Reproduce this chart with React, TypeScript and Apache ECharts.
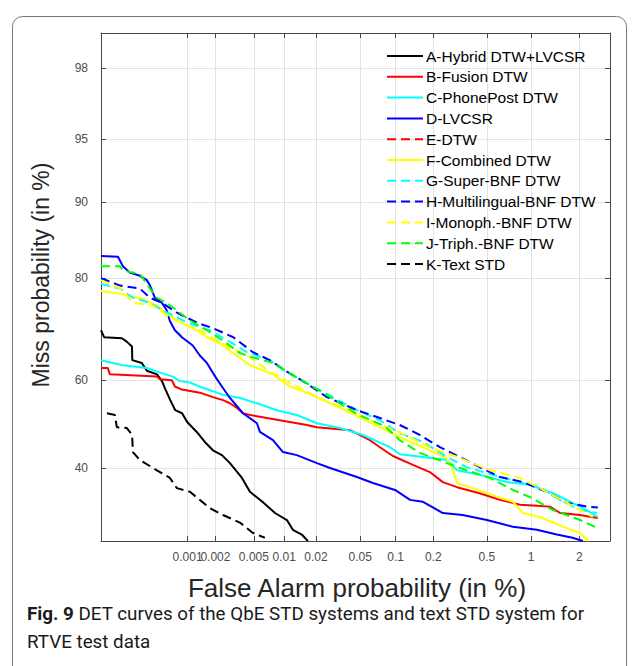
import React, { useEffect, useRef } from 'react';
import * as echarts from 'echarts';

// ---------- axis ticks & limits (percent) ----------
const xTickValues = [0.001, 0.002, 0.005, 0.01, 0.02, 0.05, 0.1, 0.2, 0.5, 1, 2];
const xTickLabels = ['0.001', '0.002', '0.005', '0.01', '0.02', '0.05', '0.1', '0.2', '0.5', '1', '2'];
const yTickValues = [40, 60, 80, 90, 95, 98];
const yTickLabels = ['40', '60', '80', '90', '95', '98'];
const xLimits = [0.0001, 3];
const yLimits = [25, 98.8];

// ---------- series (False Alarm %, Miss %) ----------
const seriesNames = [
  'A-Hybrid DTW+LVCSR', 'B-Fusion DTW', 'C-PhonePost DTW', 'D-LVCSR', 'E-DTW', 'F-Combined DTW',
  'G-Super-BNF DTW', 'H-Multilingual-BNF DTW', 'I-Monoph.-BNF DTW', 'J-Triph.-BNF DTW', 'K-Text STD',
];
const seriesColors = ['#000000', '#ff0000', '#00ffff', '#0000ff', '#ff0000', '#ffff00', '#00ffff', '#0000ff', '#ffff00', '#00ff00', '#000000'];
const seriesDashed = [false, false, false, false, true, false, true, true, true, true, true];

const hybridDtwLvcsr = [
  [0.0001, 70.6], [0.000109, 69.2], [0.000178, 69.0], [0.000203, 68.3], [0.000234, 67.3], [0.000236, 64.4],
  [0.000305, 63.8], [0.000348, 62.1], [0.000455, 61.3], [0.000519, 59.8], [0.000562, 58.1], [0.000643, 55.5],
  [0.000731, 53.2], [0.000871, 52.5], [0.00099, 50.5], [0.00126, 48.2], [0.00154, 45.9], [0.00188, 44.0],
  [0.00234, 42.9], [0.00284, 41.1], [0.00378, 37.8], [0.00456, 34.8], [0.00617, 32.6], [0.00812, 30.4],
  [0.0106, 29.0], [0.0121, 27.1], [0.0147, 26.2], [0.0168, 25.0],
];
const fusionDtw = [
  [0.0001, 62.7], [0.000121, 62.7], [0.000128, 61.3], [0.000454, 60.8], [0.000492, 60.2], [0.00067, 60.0],
  [0.000724, 58.6], [0.000867, 57.9], [0.00136, 57.2], [0.00188, 56.2], [0.0024, 55.5], [0.00284, 54.8],
  [0.00336, 53.7], [0.00387, 52.5], [0.00456, 52.1], [0.00675, 51.4], [0.0113, 50.5], [0.0164, 49.8],
  [0.0204, 49.3], [0.0407, 48.6], [0.0607, 46.3], [0.0738, 44.7], [0.0948, 42.7], [0.138, 40.7],
  [0.188, 39.1], [0.237, 36.9], [0.303, 35.8], [0.444, 34.5], [0.617, 33.1], [0.845, 32.1], [1.09, 31.9],
  [1.32, 31.7], [1.53, 30.4], [2.02, 30.0], [2.56, 29.4],
];
const phonePostDtw = [
  [0.0001, 64.4], [0.000183, 63.3], [0.000348, 62.7], [0.000454, 61.9], [0.000688, 60.8], [0.000823, 59.8],
  [0.00106, 59.5], [0.00147, 58.3], [0.0024, 56.7], [0.0036, 56.0], [0.00537, 54.8], [0.00845, 53.2],
  [0.0132, 52.1], [0.0204, 50.2], [0.033, 49.1], [0.0528, 47.5], [0.0896, 44.7], [0.108, 43.1],
  [0.166, 42.5], [0.254, 41.8], [0.303, 39.5], [0.444, 38.5], [0.69, 36.9], [0.98, 36.3], [1.38, 34.5],
  [1.68, 33.1], [2.21, 31.0], [2.56, 29.6],
];
const lvcsr = [
  [0.0001, 83.4], [0.00016, 83.3], [0.000183, 81.9], [0.000221, 80.9], [0.000289, 80.4], [0.000348, 79.7],
  [0.000379, 78.8], [0.000431, 76.7], [0.000518, 75.8], [0.000589, 74.4], [0.000633, 72.5], [0.000724, 70.6],
  [0.000867, 69.2], [0.00114, 67.5], [0.00136, 65.4], [0.00162, 63.8], [0.00199, 60.8], [0.00234, 58.6],
  [0.00284, 56.0], [0.00387, 52.5], [0.00537, 50.2], [0.00575, 48.2], [0.00775, 46.3], [0.00971, 43.6],
  [0.0132, 42.9], [0.0204, 41.1], [0.0269, 40.0], [0.0468, 38.0], [0.0644, 36.7], [0.0988, 35.2],
  [0.131, 33.1], [0.166, 32.7], [0.237, 30.4], [0.334, 30.0], [0.5, 29.0], [0.757, 27.7], [1.09, 27.1],
  [1.46, 26.2], [1.82, 25.6], [2.1, 25.0],
];
const dtw: number[][] = [];
const combinedDtw = [
  [0.0001, 77.9], [0.000169, 77.4], [0.000313, 76.5], [0.000454, 75.3], [0.000637, 73.4], [0.000889, 71.9],
  [0.00126, 70.6], [0.00162, 69.2], [0.00223, 67.9], [0.00306, 65.9], [0.00456, 63.3], [0.00775, 61.3],
  [0.0113, 58.6], [0.0164, 57.2], [0.0232, 55.5], [0.0366, 53.2], [0.0738, 49.3], [0.108, 47.0],
  [0.166, 44.7], [0.254, 42.2], [0.283, 39.5], [0.303, 36.7], [0.396, 35.6], [0.551, 34.1], [0.757, 32.7],
  [0.884, 30.4], [1.14, 29.6], [1.59, 27.7], [2.02, 26.5], [2.25, 25.0],
];
const superBnfDtw = [
  [0.0001, 79.1], [0.000169, 78.3], [0.00024, 76.7], [0.000379, 75.8], [0.000532, 74.4], [0.00099, 72.1],
  [0.00174, 70.6], [0.00306, 67.9], [0.00424, 66.1], [0.00722, 64.4], [0.0097, 62.3], [0.0151, 59.8],
  [0.0232, 57.4], [0.0468, 53.2], [0.0738, 50.9], [0.108, 47.9], [0.166, 45.9], [0.254, 42.5],
  [0.357, 40.2], [0.551, 38.5], [0.845, 36.9], [1.14, 35.8], [1.53, 33.1], [2.02, 31.0], [2.53, 30.4],
];
const multilingualBnfDtw = [
  [0.0001, 80.0], [0.000169, 78.8], [0.000289, 78.3], [0.000379, 76.7], [0.000532, 75.7], [0.000762, 74.0],
  [0.00126, 72.1], [0.00188, 71.0], [0.00308, 69.2], [0.00489, 66.1], [0.00722, 64.4], [0.0106, 61.9],
  [0.0151, 59.8], [0.0252, 56.2], [0.0468, 53.2], [0.0738, 51.4], [0.108, 49.8], [0.157, 47.5],
  [0.225, 44.7], [0.318, 42.5], [0.444, 40.2], [0.617, 38.0], [0.884, 36.9], [1.26, 34.8], [1.68, 32.5],
  [2.21, 31.7], [2.56, 31.5],
];
const monophBnfDtw = [
  [0.0001, 79.7], [0.000169, 78.4], [0.00024, 75.8], [0.000408, 75.3], [0.000589, 73.4], [0.000889, 71.9],
  [0.00136, 70.6], [0.00207, 68.5], [0.0036, 66.1], [0.00456, 65.0], [0.00722, 61.9], [0.0121, 59.1],
  [0.0204, 56.2], [0.0468, 52.5], [0.0738, 49.8], [0.0988, 48.6], [0.188, 44.7], [0.303, 42.5],
  [0.526, 39.5], [0.845, 37.8], [1.26, 34.8], [1.68, 32.5], [2.4, 29.6],
];
const triphBnfDtw = [
  [0.0001, 81.9], [0.000169, 81.9], [0.000183, 81.2], [0.000289, 80.7], [0.000313, 80.0], [0.000379, 78.3],
  [0.000454, 76.7], [0.000589, 75.8], [0.000762, 74.4], [0.00106, 72.5], [0.00162, 70.6], [0.0024, 68.5],
  [0.0036, 65.9], [0.00489, 65.0], [0.00775, 63.8], [0.0132, 60.6], [0.0232, 57.2], [0.0468, 52.3],
  [0.0814, 49.5], [0.108, 46.3], [0.157, 43.4], [0.254, 41.1], [0.357, 39.5], [0.526, 37.8], [0.757, 35.2],
  [0.98, 33.7], [1.38, 31.0], [2.02, 29.0], [2.53, 27.5],
];
const textStd = [
  [0.000118, 52.5], [0.000147, 52.1], [0.000155, 49.3], [0.000204, 49.1], [0.000235, 47.5], [0.00024, 43.6],
  [0.000289, 41.8], [0.000454, 39.5], [0.000637, 37.8], [0.000762, 35.6], [0.00106, 34.8], [0.00136, 33.1],
  [0.00174, 31.4], [0.0024, 30.0], [0.0036, 28.5], [0.00489, 26.5], [0.00644, 25.6],
];
const seriesData = [
  hybridDtwLvcsr, fusionDtw, phonePostDtw, lvcsr, dtw, combinedDtw,
  superBnfDtw, multilingualBnfDtw, monophBnfDtw, triphBnfDtw, textStd,
];

// ---------- normal deviate (probit) scale ----------
function probit(p: number): number {
  const a = [-3.969683028665376e1, 2.209460984245205e2, -2.759285104469687e2, 1.38357751867269e2, -3.066479806614716e1, 2.506628277459239];
  const b = [-5.447609879822406e1, 1.615858368580409e2, -1.556989798598866e2, 6.680131188771972e1, -1.328068155288572e1];
  const c = [-7.784894002430293e-3, -3.223964580411365e-1, -2.400758277161838, -2.549732539343734, 4.374664141464968, 2.938163982698783];
  const d = [7.784695709041462e-3, 3.224671290700398e-1, 2.445134137142996, 3.754408661907416];
  const plow = 0.02425;
  if (p < plow) {
    const q = Math.sqrt(-2 * Math.log(p));
    return (((((c[0] * q + c[1]) * q + c[2]) * q + c[3]) * q + c[4]) * q + c[5]) / ((((d[0] * q + d[1]) * q + d[2]) * q + d[3]) * q + 1);
  }
  if (p <= 1 - plow) {
    const q = p - 0.5;
    const r = q * q;
    return ((((((a[0] * r + a[1]) * r + a[2]) * r + a[3]) * r + a[4]) * r + a[5]) * q) / (((((b[0] * r + b[1]) * r + b[2]) * r + b[3]) * r + b[4]) * r + 1);
  }
  const q = Math.sqrt(-2 * Math.log(1 - p));
  return -(((((c[0] * q + c[1]) * q + c[2]) * q + c[3]) * q + c[4]) * q + c[5]) / ((((d[0] * q + d[1]) * q + d[2]) * q + d[3]) * q + 1);
}
const pz = (pct: number) => probit(pct / 100);

const FONT = 'Liberation Sans, Arial, Helvetica, sans-serif';
const AXIS_COLOR = '#4a4a4a';
const GRID_COLOR = '#e3e3e3';

function nearestLabel(values: number[], labels: string[], v: number): string {
  let best = 0;
  for (let i = 1; i < values.length; i++) {
    if (Math.abs(values[i] - v) < Math.abs(values[best] - v)) best = i;
  }
  return labels[best];
}

export default function App() {
  const ref = useRef<HTMLDivElement>(null);
  useEffect(() => {
    if (!ref.current) return;
    const chart = echarts.init(ref.current, null, { renderer: 'svg' });
    const xZ = xTickValues.map(pz);
    const yZ = yTickValues.map(pz);
    const xZEven = xZ.filter((_, i) => i % 2 === 0);
    const xZOdd = xZ.filter((_, i) => i % 2 === 1);
    const xMin = pz(xLimits[0]);
    const xMax = pz(xLimits[1]);
    const yMin = pz(yLimits[0]);
    const yMax = pz(yLimits[1]);

    const baseAxis = {
      type: 'value' as const,
      axisLine: { show: true, onZero: false, lineStyle: { color: AXIS_COLOR, width: 1 } },
    };
    const xLabelStyle = {
      show: true,
      showMinLabel: true,
      showMaxLabel: true,
      hideOverlap: false,
      margin: 10,
      color: '#4d4d4d',
      fontSize: 12,
      fontFamily: FONT,
      formatter: (v: number) => nearestLabel(xZ, xTickLabels, v),
    };

    const option: any = {
      animation: false,
      backgroundColor: '#ffffff',
      grid: { left: 101, top: 33, width: 509, height: 508, containLabel: false },
      xAxis: [
        {
          ...baseAxis,
          position: 'bottom',
          min: xMin,
          max: xMax,
          axisTick: { show: true, inside: true, length: 5, customValues: xZ, lineStyle: { color: AXIS_COLOR } },
          axisLabel: { ...xLabelStyle, customValues: xZEven },
          splitLine: { show: true, lineStyle: { color: GRID_COLOR, width: 1 } },
        },
        {
          ...baseAxis,
          position: 'top',
          min: xMin,
          max: xMax,
          axisTick: { show: true, inside: true, length: 5, customValues: xZ, lineStyle: { color: AXIS_COLOR } },
          axisLabel: { show: false },
          splitLine: { show: false },
        },
        {
          type: 'value',
          position: 'bottom',
          offset: 0,
          min: xMin,
          max: xMax,
          axisLine: { show: false },
          axisTick: { show: false, customValues: xZOdd },
          axisLabel: { ...xLabelStyle, customValues: xZOdd },
          splitLine: { show: false },
        },
      ],
      yAxis: [
        {
          ...baseAxis,
          position: 'left',
          min: yMin,
          max: yMax,
          axisTick: { show: true, inside: true, length: 5, customValues: yZ, lineStyle: { color: AXIS_COLOR } },
          axisLabel: {
            show: true,
            customValues: yZ,
            showMinLabel: true,
            showMaxLabel: true,
            margin: 13,
            color: '#4d4d4d',
            fontSize: 12,
            fontFamily: FONT,
            formatter: (v: number) => nearestLabel(yZ, yTickLabels, v),
          },
          splitLine: { show: true, lineStyle: { color: GRID_COLOR, width: 1 } },
        },
        {
          ...baseAxis,
          position: 'right',
          min: yMin,
          max: yMax,
          axisTick: { show: true, inside: true, length: 5, customValues: yZ, lineStyle: { color: AXIS_COLOR } },
          axisLabel: { show: false },
          splitLine: { show: false },
        },
      ],
      legend: {
        data: seriesNames,
        orient: 'vertical',
        left: 386,
        top: 48,
        itemWidth: 36,
        itemHeight: 14,
        itemGap: 4.8,
        padding: 0,
        itemStyle: { opacity: 0 },
        textStyle: { fontSize: 15.5, color: '#000000', fontFamily: FONT, padding: [0, 0, 0, -2] },
        selectedMode: false,
      },
      series: seriesNames.map((name, i) => ({
        name,
        type: 'line',
        xAxisIndex: 0,
        yAxisIndex: 0,
        symbol: 'none',
        showSymbol: false,
        clip: true,
        silent: true,
        color: seriesColors[i],
        lineStyle: { color: seriesColors[i], width: 2, type: seriesDashed[i] ? [9, 5] : 'solid' },
        data: seriesData[i].map(([fa, miss]) => [pz(fa), pz(miss)]),
      })),
      graphic: [
        {
          type: 'rect',
          z: -10,
          shape: { x: 12.5, y: 16.5, width: 614, height: 700, r: 10 },
          style: { fill: 'none', stroke: '#777777', lineWidth: 1 },
        },
        {
          type: 'text',
          x: 41,
          y: 275,
          rotation: Math.PI / 2,
          style: {
            text: 'Miss probability (in %)',
            font: `23px ${FONT}`,
            fill: '#262626',
            textAlign: 'center',
            textVerticalAlign: 'middle',
          },
        },
        {
          type: 'text',
          x: 357,
          y: 588,
          style: {
            text: 'False Alarm probability (in %)',
            font: `26px ${FONT}`,
            fill: '#262626',
            textAlign: 'center',
            textVerticalAlign: 'middle',
          },
        },
        {
          type: 'text',
          x: 27,
          y: 600,
          style: {
            text: '{b|Fig. 9} DET curves of the QbE STD systems and text STD system for\nRTVE test data',
            font: '18.8px Roboto, sans-serif',
            fill: '#1a1a1a',
            lineHeight: 28,
            textAlign: 'left',
            textVerticalAlign: 'top',
            rich: {
              b: { fontWeight: 'bold', fontSize: 18.8, fontFamily: 'Roboto, sans-serif', fill: '#1a1a1a', lineHeight: 28 },
            },
          },
        },
      ],
    };
    chart.setOption(option);
    return () => chart.dispose();
  }, []);
  return <div ref={ref} style={{ position: 'absolute', left: 0, top: 0, width: 637, height: 666 }} />;
}
